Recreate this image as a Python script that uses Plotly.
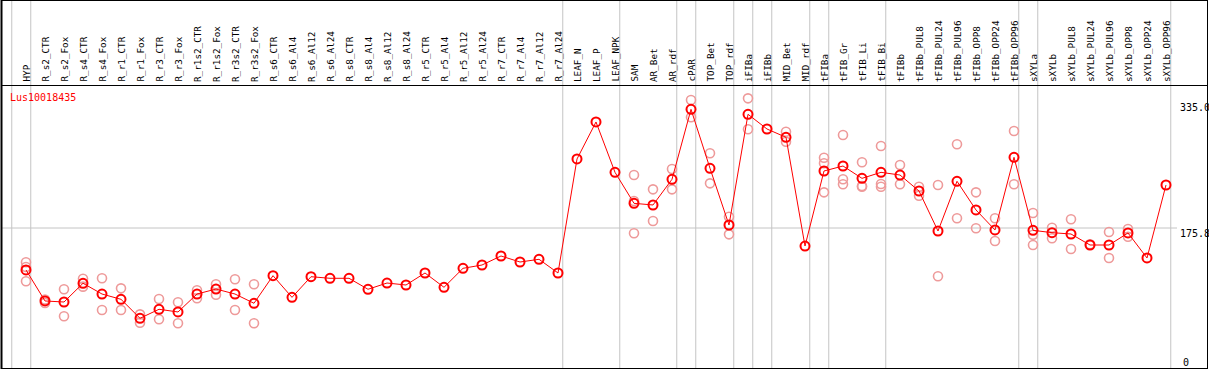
import plotly.graph_objects as go

# ---------------- data ----------------
gene_id = "Lus10018435"

categories = [
    "HYP", "R_s2_CTR", "R_s2_Fox", "R_s4_CTR", "R_s4_Fox", "R_r1_CTR", "R_r1_Fox",
    "R_r3_CTR", "R_r3_Fox", "R_r1s2_CTR", "R_r1s2_Fox", "R_r3s2_CTR", "R_r3s2_Fox",
    "R_s6_CTR", "R_s6_Al4", "R_s6_Al12", "R_s6_Al24", "R_s8_CTR", "R_s8_Al4",
    "R_s8_Al12", "R_s8_Al24", "R_r5_CTR", "R_r5_Al4", "R_r5_Al12", "R_r5_Al24",
    "R_r7_CTR", "R_r7_Al4", "R_r7_Al12", "R_r7_Al24", "LEAF_N", "LEAF_P", "LEAF_NPK",
    "SAM", "AR_Bet", "AR_rdf", "cPAR", "TOP_Bet", "TOP_rdf", "iFIBa", "iFIBb",
    "MID_Bet", "MID_rdf", "tFIBa", "tFIB_Gr", "tFIB_Li", "tFIB_Bi", "tFIBb",
    "tFIBb_PUL8", "tFIBb_PUL24", "tFIBb_PUL96", "tFIBb_OPP8", "tFIBb_OPP24",
    "tFIBb_OPP96", "sXYLa", "sXYLb", "sXYLb_PUL8", "sXYLb_PUL24", "sXYLb_PUL96",
    "sXYLb_OPP8", "sXYLb_OPP24", "sXYLb_OPP96",
]

mean_values = [
    122.7, 83.5, 82.2, 105.9, 92.3, 85.6, 61.6, 73.0, 69.6, 92.3,
    98.6, 92.3, 80.6, 115.5, 88.1, 114.2, 112.2, 112.2, 98.3, 106.2,
    103.7, 118.9, 100.8, 124.8, 129.0, 140.4, 132.8, 136.2, 118.9, 263.1,
    309.9, 246.2, 207.0, 204.9, 237.4, 325.9, 251.3, 179.6, 319.6, 301.0,
    290.5, 153.0, 247.9, 254.2, 238.6, 246.2, 242.8, 222.6, 172.0, 234.9,
    198.6, 173.3, 265.2, 172.9, 169.9, 168.2, 154.3, 154.3, 169.5, 137.9,
    230.2,
]

replicates = [
    [132.4, 126.5, 108.4], [85.4, 80.9], [98.3, 64.1], [111.7, 101.6], [112.2, 72.1],
    [99.5, 72.1], [66.6, 56.0], [86.0, 60.3], [81.8, 55.3], [97.0, 86.9],
    [104.6, 91.4], [110.9, 72.1], [104.6, 55.3], [], [], [], [], [], [], [], [],
    [], [], [], [], [], [], [], [], [], [], [],
    [242.8, 209.9, 169.1], [224.7, 184.6], [250.4, 224.7], [337.7, 315.8],
    [270.3, 232.3], [190.1, 167.8], [339.8, 300.6], [], [297.6, 284.9], [],
    [264.7, 257.6, 220.9], [293.4, 237.4, 231.1], [258.9, 228.9, 228.0],
    [279.5, 231.4, 228.0], [255.5, 231.1], [228.0, 216.6], [230.2, 114.7],
    [281.7, 188.1], [220.9, 175.4], [188.1, 159.4], [298.5, 231.1],
    [194.8, 167.3, 154.3], [176.2, 162.8], [186.8, 149.2], [155.2],
    [170.7, 137.9], [174.5, 164.8], [], [],
]

# indices of the last category in each sample group (-1 = before the first)
group_ends = [-1, 0, 28, 31, 34, 35, 37, 38, 39, 41, 42, 45, 52, 53, 60]

y_tick_values = [335.0, 175.8, 0.0]
y_tick_labels = ["335.0", "175.8", "0"]
reference_line = 175.8

# ---------------- layout geometry ----------------
W, H = 1209, 370
X0_PX, STEP_PX = 26, 19          # pixel of first category, spacing
ZERO_PY = 367                    # pixel row of value 0
Y_PER_PX = 175.8 / 139.0         # value units per pixel
HEADER_PY = 85                   # divider between labels and plot

def pxx(px):
    return px / W

def pxy(py):
    return 1 - py / H

x_range = [-X0_PX / STEP_PX, (W - X0_PX) / STEP_PX]
y_range = [(ZERO_PY - H) * Y_PER_PX, ZERO_PY * Y_PER_PX]

MONO = "DejaVu Sans Mono"
GRID = "#c4c4c4"

xs = list(range(len(categories)))
rep_x, rep_y = [], []
for i, reps in enumerate(replicates):
    for v in reps:
        rep_x.append(i)
        rep_y.append(v)

fig = go.Figure()
fig.add_trace(go.Scatter(
    x=rep_x, y=rep_y, mode="markers",
    marker=dict(symbol="circle-open", size=9, color="#ee9a9a",
                line=dict(width=1.6, color="#ee9a9a")),
    hoverinfo="skip", showlegend=False,
))
fig.add_trace(go.Scatter(
    x=xs, y=mean_values, mode="lines+markers",
    line=dict(color="#ff0000", width=1),
    marker=dict(symbol="circle-open", size=9, color="#ff0000",
                line=dict(width=2, color="#ff0000")),
    showlegend=False,
))

shapes = []
# group separators (full height)
for k in group_ends:
    shapes.append(dict(type="line", xref="x", yref="paper",
                       x0=k + 0.25, x1=k + 0.25, y0=pxy(368), y1=1,
                       line=dict(color=GRID, width=1), layer="below"))
# reference line
shapes.append(dict(type="line", xref="paper", yref="y",
                   x0=pxx(1), x1=pxx(1177), y0=reference_line, y1=reference_line,
                   line=dict(color=GRID, width=1), layer="below"))
# header divider
shapes.append(dict(type="line", xref="paper", yref="paper",
                   x0=pxx(1), x1=pxx(1208), y0=pxy(HEADER_PY + 0.5), y1=pxy(HEADER_PY + 0.5),
                   line=dict(color="black", width=1)))
# frame
shapes.append(dict(type="line", xref="paper", yref="paper", x0=pxx(1.5), x1=pxx(1.5),
                   y0=pxy(0), y1=pxy(369), line=dict(color="black", width=2)))
shapes.append(dict(type="line", xref="paper", yref="paper", x0=pxx(1207.5), x1=pxx(1207.5),
                   y0=pxy(0), y1=pxy(369), line=dict(color="black", width=1)))
shapes.append(dict(type="line", xref="paper", yref="paper", x0=pxx(1), x1=pxx(1208),
                   y0=pxy(0.5), y1=pxy(0.5), line=dict(color="black", width=1)))
shapes.append(dict(type="line", xref="paper", yref="paper", x0=pxx(1), x1=pxx(1208),
                   y0=pxy(368.5), y1=pxy(368.5), line=dict(color="black", width=1)))

annotations = []
for i, name in enumerate(categories):
    annotations.append(dict(
        x=i, xref="x", y=pxy(HEADER_PY - 1), yref="paper",
        text=name, textangle=-90, showarrow=False,
        xanchor="center", yanchor="bottom", xshift=0,
        font=dict(family=MONO, size=9.3, color="black"),
    ))
annotations.append(dict(
    x=pxx(8), xref="paper", y=pxy(97), yref="paper", text=gene_id,
    showarrow=False, xanchor="left", yanchor="middle",
    font=dict(family=MONO, size=10, color="#ff0000"),
))
for v, lab in zip(y_tick_values, y_tick_labels):
    vpx = ZERO_PY - v / Y_PER_PX
    if vpx + 12 > ZERO_PY:
        annotations.append(dict(x=pxx(1178), xref="paper", y=pxy(ZERO_PY), yref="paper",
                                text=lab, showarrow=False, xanchor="left", yanchor="bottom",
                                xshift=3, yshift=-3,
                                font=dict(family=MONO, size=10, color="black")))
    else:
        annotations.append(dict(x=pxx(1178), xref="paper", y=v, yref="y",
                                text=lab, showarrow=False, xanchor="left", yanchor="top",
                                yshift=2, font=dict(family=MONO, size=10, color="black")))

fig.update_layout(
    width=W, height=H, autosize=False,
    margin=dict(l=0, r=0, t=0, b=0, pad=0),
    paper_bgcolor="white", plot_bgcolor="white",
    xaxis=dict(range=x_range, visible=False, fixedrange=True),
    yaxis=dict(range=y_range, visible=False, fixedrange=True),
    shapes=shapes, annotations=annotations,
)

fig.write_html(
    "out.html",
    config={"displayModeBar": False},
    post_script="document.body.style.margin='0';document.body.style.overflow='hidden';",
)
